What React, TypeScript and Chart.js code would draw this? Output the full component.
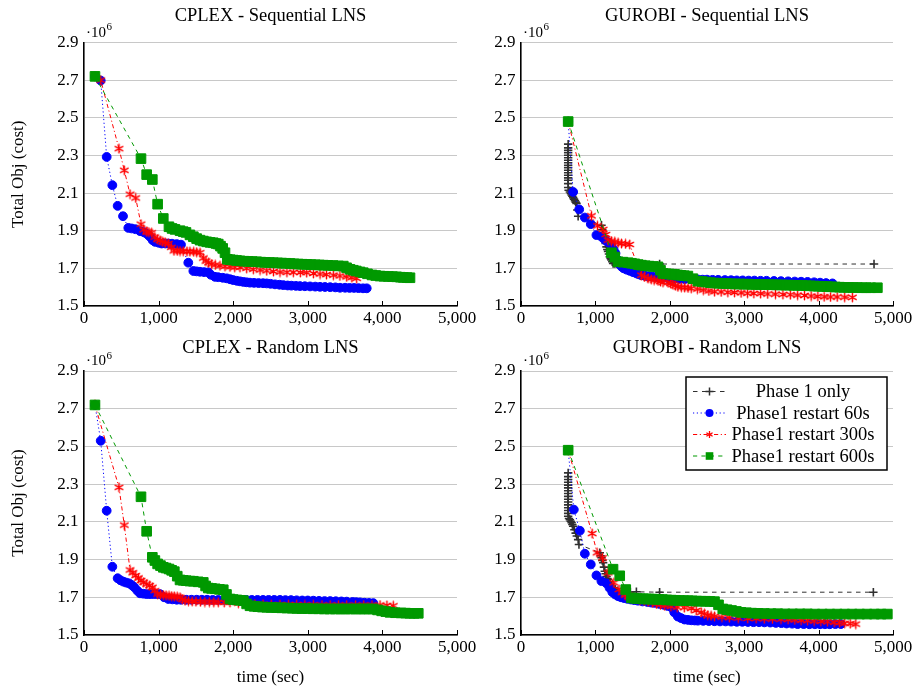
import React, { useEffect, useRef } from 'react';
import { Chart, registerables } from 'chart.js';

Chart.register(...registerables);

type Pt = [number, number];

// ---------- tick labels / axis ranges ----------
const X_MIN = 0;
const X_MAX = 5000;
const X_STEP = 1000;
const Y_MIN = 1.5;
const Y_MAX = 2.9;
const Y_STEP = 0.2;

const TITLES = ['CPLEX - Sequential LNS', 'GUROBI - Sequential LNS', 'CPLEX - Random LNS', 'GUROBI - Random LNS'];
const SERIES_LABELS = ['Phase 1 only', 'Phase1 restart 60s', 'Phase1 restart 300s', 'Phase1 restart 600s'];
const Y_TITLE = 'Total Obj (cost)';
const X_TITLE = 'time (sec)';

// ---------- data: [time (sec), total obj (x10^6)] ----------
// CPLEX - Sequential LNS
const cplexSeqBlue: Pt[] = [[147,2.72],[224,2.698],[304,2.292],[380,2.142],[451,2.032],[523,1.977],[594,1.915],[640,1.912],[690,1.908],[751,1.898],[800,1.893],[822,1.889],[860,1.878],[885,1.868],[920,1.850],[952,1.841],[1000,1.836],[1041,1.832],[1090,1.832],[1130,1.832],[1180,1.831],[1243,1.829],[1300,1.826],[1398,1.730],[1466,1.686],[1510,1.684],[1555,1.682],[1610,1.680],[1666,1.679],[1700,1.666],[1756,1.655],[1800,1.653],[1860,1.650],[1913,1.647],[1960,1.642],[2000,1.638],[2047,1.634],[2090,1.631],[2136,1.628],[2180,1.626],[2225,1.624],[2280,1.623],[2340,1.622],[2400,1.621],[2449,1.620],[2500,1.618],[2560,1.615],[2620,1.613],[2672,1.611],[2730,1.609],[2780,1.608],[2840,1.607],[2895,1.606],[2960,1.605],[3030,1.604],[3100,1.603],[3164,1.602],[3230,1.601],[3300,1.600],[3370,1.599],[3432,1.597],[3500,1.597],[3560,1.596],[3620,1.596],[3680,1.595],[3740,1.594],[3790,1.594]];
const cplexSeqRed: Pt[] = [[147,2.72],[224,2.70],[469,2.336],[540,2.221],[617,2.094],[693,2.074],[764,1.935],[800,1.905],[840,1.894],[870,1.892],[907,1.889],[950,1.866],[983,1.855],[1020,1.848],[1055,1.841],[1090,1.836],[1130,1.832],[1170,1.812],[1206,1.793],[1250,1.793],[1287,1.792],[1330,1.791],[1380,1.790],[1420,1.789],[1470,1.788],[1510,1.786],[1555,1.783],[1600,1.755],[1635,1.739],[1670,1.730],[1711,1.723],[1760,1.718],[1823,1.714],[1890,1.711],[1957,1.708],[2020,1.706],[2091,1.705],[2180,1.700],[2270,1.695],[2360,1.691],[2449,1.687],[2540,1.683],[2627,1.680],[2720,1.679],[2806,1.679],[2900,1.678],[2985,1.677],[3075,1.673],[3164,1.670],[3250,1.667],[3342,1.664],[3430,1.660],[3521,1.655],[3590,1.651],[3655,1.647]];
const cplexSeqGreen: Pt[] = [[147,2.72],[764,2.283],[840,2.198],[916,2.172],[987,2.041],[1063,1.965],[1139,1.921],[1180,1.912],[1220,1.907],[1287,1.900],[1330,1.895],[1367,1.891],[1420,1.878],[1466,1.868],[1510,1.858],[1555,1.850],[1600,1.845],[1645,1.841],[1690,1.838],[1733,1.836],[1770,1.832],[1800,1.829],[1830,1.818],[1859,1.806],[1890,1.783],[1921,1.748],[1960,1.746],[2000,1.744],[2045,1.742],[2091,1.740],[2145,1.738],[2200,1.737],[2255,1.736],[2315,1.735],[2370,1.733],[2430,1.732],[2485,1.731],[2538,1.730],[2595,1.729],[2650,1.728],[2705,1.727],[2761,1.726],[2815,1.724],[2870,1.723],[2925,1.722],[2985,1.721],[3040,1.720],[3100,1.719],[3155,1.718],[3208,1.717],[3270,1.716],[3340,1.715],[3410,1.713],[3476,1.712],[3520,1.703],[3566,1.695],[3610,1.690],[3650,1.686],[3700,1.681],[3744,1.677],[3800,1.671],[3860,1.665],[3910,1.662],[3968,1.659],[4020,1.658],[4080,1.657],[4135,1.656],[4191,1.655],[4240,1.653],[4280,1.652],[4330,1.651],[4370,1.650]];

// GUROBI - Sequential LNS
const gurobiSeqBlack: Pt[] = [[634,2.36],[634,2.34],[634,2.327],[634,2.314],[634,2.301],[634,2.288],[634,2.274],[634,2.261],[634,2.248],[634,2.235],[634,2.221],[634,2.208],[634,2.195],[634,2.181],[634,2.168],[634,2.15],[634,2.13],[640,2.115],[657,2.106],[670,2.098],[680,2.09],[690,2.083],[701,2.076],[712,2.068],[725,2.06],[735,2.052],[746,2.045],[757,2.01],[768,1.977],[1082,1.929],[1092,1.905],[1103,1.885],[1115,1.868],[1126,1.85],[1137,1.832],[1149,1.814],[1160,1.80],[1170,1.79],[1182,1.776],[1193,1.762],[1204,1.752],[1215,1.745],[1227,1.735],[1238,1.726],[1260,1.726],[1282,1.726],[1304,1.726],[1863,1.723],[4745,1.723]];
const gurobiSeqBlue: Pt[] = [[634,2.48],[701,2.106],[782,2.013],[858,1.970],[938,1.935],[1014,1.877],[1081,1.868],[1120,1.855],[1150,1.845],[1185,1.835],[1216,1.823],[1245,1.800],[1270,1.780],[1300,1.745],[1330,1.720],[1355,1.708],[1381,1.700],[1420,1.693],[1461,1.687],[1505,1.680],[1551,1.673],[1585,1.668],[1617,1.664],[1660,1.661],[1700,1.659],[1750,1.657],[1796,1.655],[1850,1.652],[1900,1.650],[1980,1.647],[2064,1.645],[2130,1.644],[2200,1.643],[2290,1.642],[2377,1.641],[2440,1.640],[2500,1.640],[2575,1.639],[2650,1.639],[2740,1.638],[2824,1.637],[2900,1.636],[2980,1.636],[3060,1.635],[3137,1.635],[3220,1.634],[3300,1.634],[3400,1.633],[3494,1.632],[3590,1.631],[3680,1.630],[3765,1.629],[3851,1.628],[3940,1.626],[4020,1.624],[4100,1.622],[4186,1.620]];
const gurobiSeqRed: Pt[] = [[634,2.48],[947,1.979],[1028,1.926],[1103,1.907],[1140,1.880],[1170,1.850],[1215,1.845],[1260,1.841],[1305,1.836],[1350,1.832],[1405,1.830],[1461,1.827],[1618,1.664],[1660,1.655],[1707,1.647],[1750,1.642],[1790,1.638],[1841,1.634],[1875,1.630],[1908,1.626],[1975,1.624],[2010,1.620],[2040,1.615],[2075,1.608],[2109,1.602],[2155,1.600],[2200,1.598],[2245,1.596],[2288,1.594],[2370,1.590],[2450,1.585],[2525,1.580],[2601,1.576],[2690,1.575],[2780,1.573],[2870,1.572],[2958,1.570],[3045,1.568],[3130,1.567],[3220,1.566],[3315,1.564],[3420,1.563],[3520,1.561],[3620,1.560],[3718,1.558],[3810,1.556],[3900,1.553],[3990,1.551],[4075,1.549],[4160,1.548],[4250,1.548],[4350,1.547],[4454,1.546]];
const gurobiSeqGreen: Pt[] = [[634,2.48],[1216,1.783],[1260,1.760],[1304,1.735],[1370,1.733],[1439,1.730],[1485,1.727],[1530,1.724],[1575,1.720],[1618,1.717],[1670,1.714],[1720,1.712],[1780,1.710],[1841,1.708],[1875,1.690],[1908,1.673],[1950,1.671],[1990,1.670],[2030,1.669],[2064,1.668],[2105,1.665],[2150,1.663],[2195,1.661],[2243,1.659],[2310,1.645],[2377,1.632],[2435,1.630],[2490,1.627],[2545,1.624],[2601,1.622],[2655,1.621],[2710,1.620],[2765,1.619],[2824,1.618],[2880,1.617],[2940,1.617],[2995,1.616],[3050,1.616],[3110,1.615],[3160,1.615],[3215,1.614],[3271,1.614],[3330,1.613],[3385,1.613],[3440,1.612],[3500,1.612],[3555,1.611],[3610,1.611],[3665,1.610],[3718,1.610],[3775,1.609],[3830,1.608],[3885,1.607],[3940,1.606],[3995,1.605],[4050,1.604],[4110,1.603],[4165,1.602],[4225,1.601],[4280,1.600],[4340,1.599],[4400,1.599],[4460,1.598],[4520,1.598],[4580,1.597],[4640,1.597],[4700,1.597],[4790,1.597]];

// CPLEX - Random LNS
const cplexRndBlue: Pt[] = [[147,2.72],[224,2.530],[304,2.159],[380,1.862],[451,1.801],[490,1.790],[527,1.783],[565,1.778],[603,1.774],[640,1.765],[675,1.753],[715,1.735],[751,1.721],[795,1.719],[840,1.717],[885,1.717],[930,1.717],[975,1.717],[1019,1.717],[1075,1.700],[1130,1.691],[1185,1.689],[1243,1.687],[1300,1.687],[1370,1.687],[1440,1.687],[1511,1.687],[1580,1.687],[1650,1.687],[1725,1.686],[1800,1.686],[1880,1.686],[1957,1.686],[2030,1.686],[2100,1.686],[2175,1.686],[2250,1.686],[2325,1.686],[2400,1.686],[2475,1.686],[2550,1.686],[2627,1.686],[2700,1.685],[2775,1.685],[2850,1.684],[2925,1.683],[3000,1.683],[3074,1.682],[3150,1.681],[3225,1.680],[3300,1.680],[3375,1.679],[3450,1.678],[3521,1.677],[3600,1.675],[3650,1.674],[3700,1.673],[3760,1.671],[3820,1.670],[3878,1.669]];
const cplexRndRed: Pt[] = [[147,2.72],[469,2.283],[540,2.083],[617,1.845],[655,1.830],[693,1.815],[730,1.802],[764,1.789],[800,1.780],[840,1.770],[880,1.762],[916,1.753],[950,1.735],[987,1.717],[1025,1.714],[1063,1.712],[1100,1.710],[1140,1.708],[1175,1.706],[1210,1.705],[1250,1.703],[1287,1.700],[1320,1.690],[1354,1.682],[1400,1.680],[1450,1.678],[1500,1.677],[1560,1.676],[1620,1.675],[1680,1.675],[1740,1.674],[1800,1.674],[1880,1.673],[1957,1.673],[2070,1.669],[2181,1.665],[2290,1.664],[2400,1.663],[2510,1.662],[2627,1.662],[2740,1.661],[2851,1.661],[2960,1.660],[3074,1.660],[3190,1.659],[3300,1.659],[3410,1.659],[3521,1.659],[3640,1.659],[3750,1.659],[3860,1.659],[3968,1.659],[4060,1.657],[4146,1.655]];
const cplexRndGreen: Pt[] = [[147,2.72],[764,2.233],[840,2.05],[916,1.912],[950,1.895],[987,1.877],[1025,1.868],[1063,1.859],[1100,1.855],[1140,1.850],[1175,1.843],[1211,1.836],[1250,1.812],[1287,1.792],[1330,1.790],[1370,1.788],[1420,1.786],[1466,1.785],[1530,1.782],[1599,1.779],[1630,1.760],[1666,1.749],[1710,1.747],[1760,1.745],[1815,1.742],[1867,1.740],[1910,1.715],[1957,1.691],[2000,1.688],[2050,1.686],[2095,1.684],[2136,1.682],[2180,1.665],[2225,1.655],[2280,1.652],[2330,1.650],[2390,1.648],[2449,1.647],[2510,1.646],[2580,1.645],[2650,1.644],[2720,1.643],[2790,1.642],[2851,1.641],[2920,1.640],[2995,1.640],[3070,1.639],[3145,1.639],[3220,1.638],[3298,1.638],[3370,1.638],[3440,1.638],[3500,1.638],[3570,1.638],[3640,1.638],[3700,1.638],[3760,1.638],[3820,1.638],[3878,1.638],[3935,1.633],[3990,1.628],[4045,1.624],[4102,1.620],[4175,1.618],[4250,1.617],[4310,1.616],[4370,1.615],[4425,1.615],[4481,1.615]];

// GUROBI - Random LNS
const gurobiRndBlack: Pt[] = [[634,2.36],[634,2.34],[634,2.325],[634,2.31],[634,2.295],[634,2.28],[634,2.265],[634,2.25],[634,2.235],[634,2.22],[634,2.205],[634,2.19],[634,2.175],[634,2.16],[634,2.145],[634,2.13],[645,2.118],[657,2.111],[668,2.103],[680,2.095],[690,2.086],[701,2.077],[718,2.058],[735,2.04],[750,2.025],[768,2.006],[779,1.98],[1059,1.936],[1070,1.92],[1082,1.91],[1093,1.895],[1104,1.883],[1115,1.86],[1126,1.838],[1138,1.825],[1150,1.81],[1160,1.80],[1170,1.794],[1185,1.782],[1200,1.77],[1218,1.76],[1237,1.750],[1268,1.742],[1300,1.735],[1350,1.731],[1400,1.729],[1470,1.728],[1551,1.729],[1863,1.727],[4736,1.727]];
const gurobiRndBlue: Pt[] = [[634,2.48],[710,2.165],[791,2.053],[858,1.931],[938,1.874],[1014,1.816],[1081,1.786],[1148,1.774],[1190,1.750],[1228,1.727],[1265,1.715],[1304,1.706],[1345,1.700],[1385,1.696],[1430,1.692],[1480,1.688],[1525,1.685],[1572,1.682],[1635,1.678],[1700,1.675],[1750,1.672],[1796,1.670],[1860,1.665],[1920,1.660],[1970,1.654],[2020,1.647],[2060,1.620],[2108,1.598],[2150,1.590],[2198,1.582],[2245,1.580],[2290,1.578],[2335,1.577],[2377,1.576],[2450,1.575],[2525,1.574],[2600,1.573],[2675,1.572],[2750,1.572],[2824,1.571],[2900,1.570],[2975,1.570],[3050,1.569],[3125,1.568],[3200,1.568],[3271,1.567],[3350,1.566],[3425,1.564],[3500,1.563],[3570,1.561],[3645,1.560],[3718,1.558],[3800,1.558],[3875,1.557],[3950,1.557],[4020,1.557],[4085,1.557],[4150,1.557],[4225,1.558],[4299,1.558]];
const gurobiRndRed: Pt[] = [[634,2.48],[956,2.038],[1023,1.936],[1095,1.909],[1170,1.830],[1247,1.777],[1318,1.741],[1360,1.725],[1400,1.712],[1445,1.705],[1490,1.700],[1545,1.692],[1600,1.685],[1655,1.681],[1707,1.677],[1765,1.671],[1820,1.665],[1875,1.660],[1930,1.655],[2015,1.651],[2100,1.648],[2195,1.645],[2288,1.641],[2355,1.630],[2422,1.620],[2465,1.612],[2510,1.605],[2555,1.602],[2601,1.599],[2700,1.595],[2800,1.592],[2920,1.590],[3047,1.588],[3160,1.587],[3270,1.586],[3380,1.585],[3494,1.584],[3590,1.582],[3680,1.580],[3765,1.578],[3851,1.576],[3940,1.574],[4030,1.572],[4120,1.570],[4209,1.567],[4280,1.565],[4350,1.562],[4425,1.560],[4500,1.558]];
const gurobiRndGreen: Pt[] = [[634,2.48],[1237,1.849],[1327,1.814],[1408,1.741],[1484,1.697],[1520,1.695],[1560,1.693],[1600,1.692],[1640,1.692],[1680,1.691],[1720,1.691],[1760,1.690],[1796,1.690],[1850,1.689],[1900,1.688],[1960,1.686],[2020,1.685],[2075,1.684],[2130,1.683],[2185,1.682],[2243,1.682],[2300,1.681],[2360,1.680],[2420,1.679],[2480,1.679],[2540,1.678],[2601,1.677],[2655,1.660],[2712,1.638],[2770,1.634],[2830,1.630],[2895,1.625],[2958,1.620],[3030,1.618],[3100,1.616],[3185,1.615],[3271,1.614],[3360,1.613],[3450,1.613],[3550,1.612],[3650,1.612],[3750,1.612],[3850,1.612],[3950,1.611],[4050,1.611],[4150,1.611],[4250,1.611],[4350,1.611],[4450,1.611],[4550,1.611],[4650,1.611],[4750,1.611],[4840,1.611],[4924,1.611]];

// ---------- styling ----------
const FONT = '"Liberation Serif", "Times New Roman", serif';
const FS = 17;
const TITLE_FS = 18.5;
const LEGEND_FS = 18.5;

type Key = 'black' | 'blue' | 'red' | 'green';
const STYLE: Record<Key, { color: string; dash: number[]; order: number; label: string }> = {
  black: { color: '#303030', dash: [4.5, 4.5], order: 4, label: SERIES_LABELS[0] },
  blue: { color: '#0000ff', dash: [1.2, 2.6], order: 3, label: SERIES_LABELS[1] },
  red: { color: '#ff0000', dash: [4.2, 2.6, 1.1, 2.6], order: 2, label: SERIES_LABELS[2] },
  green: { color: '#009900', dash: [4.2, 4.2], order: 1, label: SERIES_LABELS[3] },
};

let asteriskCache: HTMLCanvasElement | null = null;
function asterisk(): HTMLCanvasElement {
  if (asteriskCache) return asteriskCache;
  const c = document.createElement('canvas');
  c.width = 11;
  c.height = 11;
  const ctx = c.getContext('2d')!;
  ctx.strokeStyle = STYLE.red.color;
  ctx.lineWidth = 1.5;
  ctx.lineCap = 'round';
  const r = 4.3;
  ctx.beginPath();
  for (const deg of [90, 30, 150]) {
    const a = (deg * Math.PI) / 180;
    ctx.moveTo(5.5 + r * Math.cos(a), 5.5 - r * Math.sin(a));
    ctx.lineTo(5.5 - r * Math.cos(a), 5.5 + r * Math.sin(a));
  }
  ctx.stroke();
  asteriskCache = c;
  return c;
}

function makeDataset(key: Key, data: Pt[]) {
  const s = STYLE[key];
  const base: any = {
    label: s.label,
    data: data.map(([x, y]) => ({ x, y })),
    borderColor: s.color,
    backgroundColor: s.color,
    borderWidth: 1,
    borderDash: s.dash,
    pointBackgroundColor: s.color,
    pointBorderColor: s.color,
    tension: 0,
    order: s.order,
    clip: false,
  };
  if (key === 'black') Object.assign(base, { pointStyle: 'cross', pointRadius: 4.2, pointBorderWidth: 1.6 });
  if (key === 'blue') Object.assign(base, { pointStyle: 'circle', pointRadius: 4.4, pointBorderWidth: 1 });
  if (key === 'red') Object.assign(base, { pointStyle: asterisk(), pointRadius: 5, pointBorderWidth: 1 });
  if (key === 'green') Object.assign(base, { pointStyle: 'rect', pointRadius: 6.8, pointBorderWidth: 1 });
  return base;
}

function drawMarker(ctx: CanvasRenderingContext2D, key: Key, x: number, y: number) {
  const s = STYLE[key];
  ctx.save();
  ctx.setLineDash([]);
  ctx.fillStyle = s.color;
  ctx.strokeStyle = s.color;
  if (key === 'black') {
    ctx.lineWidth = 1.5;
    ctx.beginPath();
    ctx.moveTo(x - 4, y);
    ctx.lineTo(x + 4, y);
    ctx.moveTo(x, y - 4);
    ctx.lineTo(x, y + 4);
    ctx.stroke();
  } else if (key === 'blue') {
    ctx.beginPath();
    ctx.arc(x, y, 4, 0, Math.PI * 2);
    ctx.fill();
  } else if (key === 'red') {
    ctx.lineWidth = 1.3;
    const r = 3.6;
    ctx.beginPath();
    for (const deg of [90, 30, 150]) {
      const a = (deg * Math.PI) / 180;
      ctx.moveTo(x + r * Math.cos(a), y - r * Math.sin(a));
      ctx.lineTo(x - r * Math.cos(a), y + r * Math.sin(a));
    }
    ctx.stroke();
  } else {
    ctx.fillRect(x - 3.8, y - 3.8, 7.6, 7.6);
  }
  ctx.restore();
}

interface PanelCfg {
  left: number;
  top: number;
  w: number;
  h: number;
  yWidth: number;
  xHeight: number;
  padRight: number;
  titlePadTop: number;
  titlePadBottom: number;
  title: string;
  yTitle: boolean;
  xTitle: boolean;
  legend: boolean;
  series: [Key, Pt[]][];
}

const PANELS: PanelCfg[] = [
  { left: 0, top: 0, w: 481, h: 335, yWidth: 84, xHeight: 29, padRight: 24, titlePadTop: 4.9, titlePadBottom: 15.4, title: TITLES[0], yTitle: true, xTitle: false, legend: false,
    series: [['blue', cplexSeqBlue], ['red', cplexSeqRed], ['green', cplexSeqGreen]] },
  { left: 455, top: 0, w: 460, h: 335, yWidth: 66, xHeight: 29, padRight: 22, titlePadTop: 4.9, titlePadBottom: 15.4, title: TITLES[1], yTitle: false, xTitle: false, legend: false,
    series: [['black', gurobiSeqBlack], ['blue', gurobiSeqBlue], ['red', gurobiSeqRed], ['green', gurobiSeqGreen]] },
  { left: 0, top: 335, w: 481, h: 355, yWidth: 84, xHeight: 55, padRight: 24, titlePadTop: 1.9, titlePadBottom: 11.9, title: TITLES[2], yTitle: true, xTitle: true, legend: false,
    series: [['blue', cplexRndBlue], ['red', cplexRndRed], ['green', cplexRndGreen]] },
  { left: 455, top: 335, w: 460, h: 355, yWidth: 66, xHeight: 55, padRight: 22, titlePadTop: 1.9, titlePadBottom: 11.9, title: TITLES[3], yTitle: false, xTitle: true, legend: true,
    series: [['black', gurobiRndBlack], ['blue', gurobiRndBlue], ['red', gurobiRndRed], ['green', gurobiRndGreen]] },
];

function buildConfig(p: PanelCfg): any {
  const extras = {
    id: 'extras',
    afterDraw(chart: any) {
      const { ctx, chartArea: a, scales } = chart;
      const xs = scales.x;
      ctx.save();
      // inward tick marks on the x axis
      ctx.strokeStyle = '#000';
      ctx.lineWidth = 1;
      for (const t of xs.ticks) {
        const px = Math.round(xs.getPixelForValue(t.value)) + 0.5;
        ctx.beginPath();
        ctx.moveTo(px, a.bottom);
        ctx.lineTo(px, a.bottom - 5);
        ctx.stroke();
      }
      // ·10^6 multiplier
      ctx.fillStyle = '#000';
      ctx.textAlign = 'left';
      ctx.textBaseline = 'alphabetic';
      ctx.font = `15px ${FONT}`;
      ctx.fillText('·10', a.left + 2, a.top - 6);
      const w = ctx.measureText('·10').width;
      ctx.font = `11px ${FONT}`;
      ctx.fillText('6', a.left + 2 + w + 0.5, a.top - 12.5);
      // legend
      if (p.legend) {
        const bw = 201;
        const bh = 93;
        const bx = a.right - 6 - bw;
        const by = a.top + 6;
        ctx.fillStyle = '#fff';
        ctx.fillRect(bx, by, bw, bh);
        ctx.strokeStyle = '#000';
        ctx.lineWidth = 1.5;
        ctx.strokeRect(bx, by, bw, bh);
        (['black', 'blue', 'red', 'green'] as Key[]).forEach((k, i) => {
          const s = STYLE[k];
          const cy = by + 14.5 + 21.5 * i;
          ctx.save();
          ctx.strokeStyle = s.color;
          ctx.lineWidth = 1;
          ctx.setLineDash(s.dash);
          ctx.beginPath();
          ctx.moveTo(bx + 7, cy);
          ctx.lineTo(bx + 40, cy);
          ctx.stroke();
          ctx.restore();
          drawMarker(ctx, k, bx + 23.5, cy);
          ctx.fillStyle = '#000';
          ctx.font = `${LEGEND_FS}px ${FONT}`;
          ctx.textAlign = 'center';
          ctx.textBaseline = 'middle';
          ctx.fillText(s.label, bx + 117, cy + 1);
        });
      }
      ctx.restore();
    },
  };

  return {
    type: 'line',
    data: { datasets: p.series.map(([k, d]) => makeDataset(k, d)) },
    options: {
      animation: false,
      responsive: false,
      devicePixelRatio: 1,
      events: [],
      layout: { padding: { left: 0, right: p.padRight, top: 0, bottom: 0 } },
      plugins: {
        legend: { display: false },
        tooltip: { enabled: false },
        title: {
          display: true,
          text: p.title,
          fullSize: false,
          color: '#000',
          font: { family: FONT, size: TITLE_FS, weight: 'normal', lineHeight: 1.2 },
          padding: { top: p.titlePadTop, bottom: p.titlePadBottom },
        },
      },
      scales: {
        x: {
          type: 'linear',
          min: X_MIN,
          max: X_MAX,
          ticks: {
            stepSize: X_STEP,
            color: '#000',
            padding: 2.5,
            maxRotation: 0,
            font: { family: FONT, size: FS },
            callback: (v: any) => Number(v).toLocaleString('en-US'),
          },
          grid: { display: false, drawTicks: false },
          border: { display: true, color: '#000', width: 1.6 },
          title: {
            display: p.xTitle,
            text: X_TITLE,
            color: '#000',
            font: { family: FONT, size: FS, lineHeight: 1.2 },
            padding: { top: 0, bottom: 2 },
          },
          afterFit(s: any) {
            s.height = p.xHeight;
            s.paddingLeft = 0;
            s.paddingRight = 0;
          },
        },
        y: {
          type: 'linear',
          min: Y_MIN,
          max: Y_MAX,
          ticks: {
            stepSize: Y_STEP,
            color: '#000',
            padding: 5.5,
            font: { family: FONT, size: FS },
            callback: (v: any) => Number(v).toFixed(1),
          },
          grid: { color: '#c8c8c8', lineWidth: 1, drawTicks: false },
          border: { display: true, color: '#000', width: 1.6 },
          title: {
            display: p.yTitle,
            text: Y_TITLE,
            color: '#000',
            font: { family: FONT, size: FS, lineHeight: 1.2 },
            padding: { top: 8, bottom: 0 },
          },
          afterFit(s: any) {
            s.width = p.yWidth;
            s.paddingTop = 0;
            s.paddingBottom = 0;
          },
        },
      },
    },
    plugins: [extras],
  };
}

function Panel({ p }: { p: PanelCfg }) {
  const ref = useRef<HTMLCanvasElement>(null);
  useEffect(() => {
    if (!ref.current) return;
    const chart = new Chart(ref.current, buildConfig(p));
    return () => chart.destroy();
  }, [p]);
  return (
    <canvas
      ref={ref}
      width={p.w}
      height={p.h}
      style={{ position: 'absolute', left: p.left, top: p.top, width: p.w, height: p.h }}
    />
  );
}

export default function App() {
  return (
    <div style={{ position: 'absolute', left: 0, top: 0, width: 915, height: 690, background: '#fff', overflow: 'hidden' }}>
      {PANELS.map((p, i) => (
        <Panel key={i} p={p} />
      ))}
    </div>
  );
}
